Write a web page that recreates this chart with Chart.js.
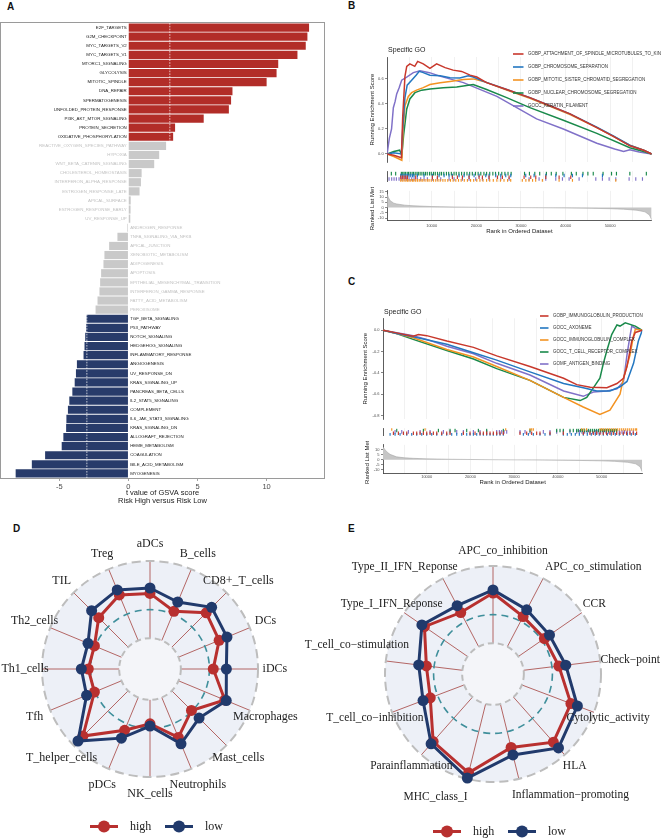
<!DOCTYPE html>
<html>
<head>
<meta charset="utf-8">
<title>GSVA / GSEA / immune radar</title>
<script src="https://cdn.jsdelivr.net/npm/chart.js@4.4.1/dist/chart.umd.min.js"></script>
<style>
  html, body { margin: 0; padding: 0; background: #fff; }
  #fig { position: relative; width: 661px; height: 838px; overflow: hidden; }
  #fig canvas { position: absolute; }
  .tag { position: absolute; font: bold 10px/12px "Liberation Sans", Arial, sans-serif; color: #111; }
</style>
</head>
<body>
<div id="fig">
  <div class="tag" style="left:7px;top:1px">A</div>
  <div class="tag" style="left:348px;top:0px">B</div>
  <div class="tag" style="left:348px;top:276px">C</div>
  <div class="tag" style="left:13px;top:523px">D</div>
  <div class="tag" style="left:348px;top:523px">E</div>

  <canvas id="hallmark" width="330" height="490" style="left:0;top:15px"></canvas>
  <canvas id="gseaB1" width="301" height="126" style="left:360px;top:40px"></canvas>
  <canvas id="gseaB2" width="301" height="21" style="left:360px;top:166px"></canvas>
  <canvas id="gseaB3" width="301" height="53" style="left:360px;top:187px"></canvas>
  <canvas id="gseaC1" width="305" height="123" style="left:356px;top:300px"></canvas>
  <canvas id="gseaC2" width="305" height="18" style="left:356px;top:423px"></canvas>
  <canvas id="gseaC3" width="305" height="49" style="left:356px;top:441px"></canvas>
  <canvas id="radarD" width="330" height="318" style="left:0;top:520px"></canvas>
  <canvas id="radarE" width="361" height="318" style="left:300px;top:520px"></canvas>
</div>

<script>
// ---------- A: GSVA t values ----------
const hallmarkNames = [
  'E2F_TARGETS', 'G2M_CHECKPOINT', 'MYC_TARGETS_V2', 'MYC_TARGETS_V1', 'MTORC1_SIGNALING',
  'GLYCOLYSIS', 'MITOTIC_SPINDLE', 'DNA_REPAIR', 'SPERMATOGENESIS', 'UNFOLDED_PROTEIN_RESPONSE',
  'PI3K_AKT_MTOR_SIGNALING', 'PROTEIN_SECRETION', 'OXIDATIVE_PHOSPHORYLATION',
  'REACTIVE_OXYGEN_SPECIES_PATHWAY', 'HYPOXIA', 'WNT_BETA_CATENIN_SIGNALING', 'CHOLESTEROL_HOMEOSTASIS',
  'INTERFERON_ALPHA_RESPONSE', 'ESTROGEN_RESPONSE_LATE', 'APICAL_SURFACE', 'ESTROGEN_RESPONSE_EARLY',
  'UV_RESPONSE_UP', 'ANDROGEN_RESPONSE', 'TNFA_SIGNALING_VIA_NFKB', 'APICAL_JUNCTION',
  'XENOBIOTIC_METABOLISM', 'ADIPOGENESIS', 'APOPTOSIS', 'EPITHELIAL_MESENCHYMAL_TRANSITION',
  'INTERFERON_GAMMA_RESPONSE', 'FATTY_ACID_METABOLISM', 'PEROXISOME',
  'TGF_BETA_SIGNALING', 'P53_PATHWAY', 'NOTCH_SIGNALING', 'HEDGEHOG_SIGNALING', 'INFLAMMATORY_RESPONSE',
  'ANGIOGENESIS', 'UV_RESPONSE_DN', 'KRAS_SIGNALING_UP', 'PANCREAS_BETA_CELLS', 'IL2_STAT5_SIGNALING',
  'COMPLEMENT', 'IL6_JAK_STAT3_SIGNALING', 'KRAS_SIGNALING_DN', 'ALLOGRAFT_REJECTION', 'HEME_METABOLISM',
  'COAGULATION', 'BILE_ACID_METABOLISM', 'MYOGENESIS'
];
const hallmarkT = [
  13.07, 12.95, 12.83, 12.23, 10.84, 10.72, 10.0, 7.53, 7.43, 7.27, 5.45, 3.38, 3.24,
  2.73, 2.23, 1.87, 0.96, 0.91, 0.81, 0.17, 0.16, 0.14,
  -0.07, -0.79, -1.39, -1.73, -1.80, -1.97, -2.04, -2.09, -2.23, -2.37,
  -3.02, -3.05, -3.12, -3.17, -3.24, -3.72, -3.79, -3.88, -4.05, -4.27, -4.37, -4.48, -4.50,
  -4.70, -4.82, -6.02, -6.98, -8.15
];
const tCutoffs = [-3, 3];
const tTicks = [-5, 0, 5, 10];

// ---------- B / C: GSEA ----------
const rankMax = 59300;
const rankBreaks = [5000, 10000, 15000, 20000, 25000, 30000, 35000, 40000, 45000, 50000, 55000];

const bNames = ['GOBP_ATTACHMENT_OF_SPINDLE_MICROTUBULES_TO_KINETOCHORE', 'GOBP_CHROMOSOME_SEPARATION',
  'GOBP_MITOTIC_SISTER_CHROMATID_SEGREGATION', 'GOBP_NUCLEAR_CHROMOSOME_SEGREGATION', 'GOCC_KERATIN_FILAMENT'];
const bAttach = [[0,0],[1500,-0.01],[3200,-0.03],[3500,0.3],[4000,0.62],[4400,0.70],[5100,0.72],[6200,0.70],[6850,0.74],[8100,0.72],[9600,0.685],[11100,0.72],[13000,0.69],[14800,0.67],[16700,0.66],[18600,0.63],[20100,0.615],[22300,0.57],[26800,0.515],[32000,0.45],[36500,0.385],[41000,0.32],[47000,0.21],[50700,0.14],[54400,0.065],[57500,0.03],[59300,0]];
const bChrom = [[0,0],[1500,0.01],[3200,0.0],[3500,0.2],[4000,0.45],[4500,0.55],[5500,0.59],[6500,0.63],[7200,0.66],[8100,0.65],[9600,0.63],[11900,0.625],[14100,0.61],[16300,0.607],[18200,0.625],[19300,0.615],[21600,0.58],[26800,0.515],[32000,0.45],[36500,0.385],[41000,0.32],[47000,0.215],[50700,0.145],[54400,0.07],[57500,0.03],[59300,0]];
const bSister = [[0,0],[1500,-0.02],[3300,-0.05],[3600,0.2],[4000,0.385],[4760,0.46],[5500,0.49],[6600,0.51],[8100,0.53],[9600,0.555],[11900,0.57],[14100,0.58],[17100,0.595],[19300,0.60],[21600,0.58],[26800,0.51],[32000,0.445],[36500,0.38],[41000,0.315],[47000,0.21],[50700,0.14],[54400,0.07],[57500,0.03],[59300,0]];
const bNuclear = [[0,0],[1500,0.02],[2800,0.03],[3300,-0.01],[3700,0.15],[4400,0.36],[5100,0.44],[6250,0.49],[7750,0.51],[9600,0.52],[12600,0.53],[15600,0.535],[19300,0.555],[22300,0.515],[26800,0.45],[32000,0.37],[39500,0.27],[47000,0.165],[54400,0.05],[57500,0.02],[59300,0]];
const bKeratin = [[0,0],[500,0.125],[1000,0.2],[1400,0.37],[1800,0.42],[2150,0.48],[2700,0.53],[3270,0.59],[4390,0.615],[5880,0.65],[7380,0.665],[9500,0.65],[12000,0.62],[17100,0.57],[24600,0.46],[33500,0.28],[39500,0.2],[47000,0.086],[51000,0.04],[53000,0.02],[54400,0.034],[56500,0.015],[59300,0]];

const bHitsAttach = [3050,3420,3800,4170,4550,6410,10150,11270,14630,15750,16880,18370,20610,21360,22850,24720,25840,27340,30700,32190,33320,35560,38550,41160];
const bHitsChrom = [3050,3400,3800,4200,4550,4900,5300,5700,6040,6790,8280,10150,11640,12770,13890,14630,16130,17250,18370,19490,20610,22110,22850,24350,25470,26590,27710,31070,32940,35560,37800,39670,41540,43780,48260];
const bHitsSister = [3050,3400,3800,4200,4550,4900,5300,5700,6000,6400,6800,7200,7600,8000,8500,9000,9400,9900,10400,10900,11400,11900,12500,13000,13600,14200,14800,15400,16000,16600,17300,18000,18700,19400,20100,20800,21500,22300,23000,23800,24600,25400,26200,27000,27700,30300,31100,31800,32600,33300,34800,38550,41540,51250];
const bHitsNuclear = [950,1920,3200,3500,3800,4100,4500,4800,5200,5600,5900,6300,6700,7000,7400,7800,8200,8600,9000,9500,9900,10400,10800,11300,11800,12200,12700,13300,13800,14400,15000,15500,16100,16700,17300,17900,18500,19100,19800,20400,21000,21700,22300,23000,23700,24300,25000,25700,26400,27100,27800,30800,31900,33100,34200,35700,36800,37900,39400,41300,42400,43900,45000,46200,48400,50300,51400,54400,58100];
const bHitsKeratin = [435,1030,1560,2080,2680,3270,3800,4320,4920,5520,6040,6790,7530,8280,9030,10150,11270,12020,13890,15010,16880,18370,19860,21360,22850,25470,27340,31820,34060,35560,37800,39300,40790,43030,46770,48260,49760,51250,54240,55730,57230];
const bRowOrder = [2, 1, 4, 0, 3];
const bMetric = [[0,13],[300,9.5],[700,6.5],[1500,4.2],[2200,3.4],[4000,2.3],[6000,1.7],[10000,1.0],[15000,0.6],[20000,0.35],[25000,0.15],[30000,0],[35000,-0.15],[40000,-0.35],[45000,-0.6],[50000,-1.0],[53000,-1.5],[56000,-2.5],[57800,-4],[58800,-7],[59300,-11.5]];

const cNames = ['GOBP_IMMUNOGLOBULIN_PRODUCTION', 'GOCC_AXONEME', 'GOCC_IMMUNOGLOBULIN_COMPLEX',
  'GOCC_T_CELL_RECEPTOR_COMPLEX', 'GOMF_ANTIGEN_BINDING'];
const cIgProd = [[0,0],[3100,-0.024],[6900,-0.055],[8100,-0.04],[10000,-0.05],[14600,-0.1],[20700,-0.16],[26000,-0.24],[33600,-0.34],[41300,-0.45],[44300,-0.51],[47400,-0.535],[51200,-0.54],[53500,-0.5],[55000,-0.45],[55800,-0.34],[56900,-0.1],[57700,-0.02],[59300,0]];
const cAxoneme = [[0,0],[3100,-0.03],[6900,-0.06],[14600,-0.13],[20700,-0.21],[26000,-0.28],[33600,-0.39],[41300,-0.5],[45800,-0.54],[48900,-0.57],[51900,-0.57],[54200,-0.53],[55800,-0.48],[57300,-0.31],[58400,-0.1],[59300,0]];
const cIgComplex = [[0,0],[3100,-0.03],[6900,-0.07],[14600,-0.18],[20700,-0.25],[26000,-0.34],[33600,-0.47],[41300,-0.63],[45800,-0.72],[49600,-0.79],[51900,-0.75],[54200,-0.6],[55000,-0.45],[56500,-0.23],[57300,-0.05],[57700,0.01],[59300,0]];
const cTcr = [[0,0],[3100,-0.03],[6900,-0.085],[14600,-0.19],[20700,-0.27],[26000,-0.36],[33600,-0.47],[41300,-0.63],[45100,-0.66],[46600,-0.63],[48100,-0.54],[49600,-0.45],[50400,-0.31],[51200,-0.19],[52300,-0.04],[53500,0.05],[54200,0.04],[55400,0.07],[57700,0.04],[59300,0]];
const cAntigen = [[0,0],[6900,-0.05],[10000,-0.085],[14600,-0.15],[20700,-0.22],[26000,-0.31],[33600,-0.42],[41300,-0.57],[45800,-0.62],[48100,-0.58],[51200,-0.57],[53500,-0.55],[55000,-0.48],[55800,-0.23],[56500,-0.05],[56900,0.04],[57700,0.02],[59300,0]];

const cHitsIgProd = [2380,3520,4670,5430,6950,7710,8480,9240,10000,10760,11520,12290,13430,14570,15330,18380,19900,21050,22190,22950,23710,24480,25240,26000,26760,27520,31330,32860,34000,35140,35900,38190,41240,45810,47330,48100,48860,49620,50380,51140,51900,52670,53430,54190,54950,55710,56480,57240,58000];
const cHitsAxoneme = [1620,2760,3900,5430,6570,7710,8860,10000,11140,12290,13430,14570,15710,16860,18000,19140,19900,20670,21430,22190,22950,23710,24480,25240,26000,26760,27520,32100,33240,34380,35900,37050,38190,41240,42150,43070,43980,44900,45810,46720,47640,48550,49460,50380,51300,52210,53120,54040,54950,55870,56780,57700];
const cHitsIgComplex = [2000,9620,28060,33620,34000,34380,45430,45960,46570,49620,50000,50380,50840,51300,51750,52210,52670,53120,53580,54040,54500,54950,55410,55870,56320,56780,57240,57700,58000];
const cHitsTcr = [3140,9240,12670,15330,16480,19140,21810,23710,27520,33620,39710,40480,41240,42760,43520,44290,44670,45200,45660,46110,46570,47030,47490,47940,48400,48860,49310,49770,50230,50690,51140,51600,52060,52510,52970,53430];
const cHitsAntigen = [2760,4290,5810,8480,10760,13810,15330,16860,18380,20670,22190,23710,26000,26610,27140,27680,28290,31330,32480,33620,36670,38190,39710,41240,42760,44290,44900,45500,46110,46720,47330,47940,48550,49160,49770,50380,50990,51600,52210,52820,53430,54040,54650,55260,55870,56480,57240];
const cRowOrder = [3, 4, 0, 1, 2];
const cMetric = [[0,13],[400,10.5],[900,8],[1600,5.5],[3100,3],[5000,2],[7000,1.5],[10000,1.0],[15000,0.6],[20000,0.35],[25000,0.15],[30000,0],[35000,-0.15],[40000,-0.35],[45000,-0.6],[50000,-1.0],[53000,-1.5],[56000,-2.5],[57800,-4],[58800,-7],[59300,-12]];

// ---------- D / E: radar ----------
const dCells = ['aDCs', 'B_cells', 'CD8+_T_cells', 'DCs', 'iDCs', 'Macrophages', 'Mast_cells', 'Neutrophils',
  'NK_cells', 'pDCs', 'T_helper_cells', 'Tfh', 'Th1_cells', 'Th2_cells', 'TIL', 'Treg'];
const dHigh = [0.58, 0.41, 0.63, 0.57, 0.42, 0.65, 0.36, 0.56, 0.31, 0.46, 0.83, 0.38, 0.40, 0.38, 0.54, 0.64];
const dLow  = [0.65, 0.54, 0.73, 0.68, 0.59, 0.67, 0.50, 0.65, 0.34, 0.57, 0.92, 0.49, 0.49, 0.47, 0.67, 0.71];

const eFuncs = ['APC_co_inhibition', 'APC_co_stimulation', 'CCR', 'Check\u2212point', 'Cytolytic_activity', 'HLA',
  'Inflammation\u2212promoting', 'MHC_class_I', 'Parainflammation', 'T_cell_co\u2212inhibition',
  'T_cell_co\u2212stimulation', 'Type_I_IFN_Reponse', 'Type_II_IFN_Reponse'];
const eHigh = [0.65, 0.44, 0.41, 0.46, 0.68, 0.78, 0.58, 0.92, 0.77, 0.47, 0.47, 0.68, 0.50];
const eLow  = [0.69, 0.54, 0.49, 0.55, 0.77, 0.88, 0.68, 0.99, 0.81, 0.57, 0.57, 0.72, 0.60];
const radarGrid = [0, 0.37, 1];

// ---------- styling ----------
Chart.defaults.font.family = '"Liberation Sans", Arial, sans-serif';
Chart.defaults.animation = false;
Chart.defaults.events = [];
Chart.defaults.plugins.legend.display = false;
Chart.defaults.plugins.tooltip.enabled = false;

const gseaColors = ['#c8382c', '#2377c1', '#f39322', '#1a8a4b', '#8071c8'];
const RED = '#b8302f', NAVY = '#213a6c';

// ----- A -----
const hallmarkDecor = {
  id: 'hallmarkDecor',
  afterDatasetsDraw(chart) {
    const {ctx, chartArea: a, scales: {x, y}} = chart;
    const x0 = x.getPixelForValue(0);
    ctx.save();
    ctx.strokeStyle = '#ffffff';
    ctx.lineWidth = 0.7;
    ctx.setLineDash([1.6, 1.2]);
    tCutoffs.forEach(v => {
      const px = x.getPixelForValue(v);
      ctx.beginPath(); ctx.moveTo(px, a.top); ctx.lineTo(px, a.bottom); ctx.stroke();
    });
    ctx.setLineDash([]);

    ctx.font = '4.4px "Liberation Sans"';
    ctx.textBaseline = 'middle';
    hallmarkNames.forEach((n, i) => {
      const v = hallmarkT[i];
      const py = y.getPixelForValue(i);
      ctx.fillStyle = Math.abs(v) > 3 ? '#1a1a1a' : '#c2c2c2';
      if (v > 0) { ctx.textAlign = 'right'; ctx.fillText(n, x0 - 1.6, py); }
      else { ctx.textAlign = 'left'; ctx.fillText(n, x0 + 1.8, py); }
    });

    ctx.strokeStyle = '#9a9a9a';
    ctx.lineWidth = 1;
    ctx.strokeRect(a.left - 0.5, a.top - 0.5, a.width + 1, a.height + 1);

    ctx.font = '7.5px "Liberation Sans"';
    ctx.fillStyle = '#1a1a1a';
    ctx.textAlign = 'center';
    const cx = (a.left + a.right) / 2;
    ctx.fillText('t value of GSVA score', cx, a.bottom + 14.7);
    ctx.fillText('Risk High versus Risk Low', cx, a.bottom + 22.7);
    ctx.restore();
  }
};

new Chart(document.getElementById('hallmark'), {
  type: 'bar',
  data: {
    labels: hallmarkNames,
    datasets: [{
      data: hallmarkT,
      backgroundColor: hallmarkT.map(v => v > 3 ? '#b22d28' : (v < -3 ? '#283b6a' : '#c9c9c9')),
      barPercentage: 0.9,
      categoryPercentage: 1
    }]
  },
  options: {
    indexAxis: 'y',
    responsive: false,
    layout: {padding: {left: 1, right: 6, top: 8, bottom: 0}},
    scales: {
      x: {
        type: 'linear', min: -9.21, max: 14.15,
        afterBuildTicks: s => { s.ticks = tTicks.map(v => ({value: v})); },
        ticks: {font: {size: 7.5}, color: '#4d4d4d', padding: 1, maxRotation: 0, autoSkip: false},
        grid: {drawOnChartArea: false, drawTicks: true, tickLength: 3, color: '#8c8c8c', lineWidth: 0.8},
        border: {display: false},
        afterFit: s => { s.height = 27; }
      },
      y: {display: false, offset: true}
    }
  },
  plugins: [hallmarkDecor]
});

// ----- B / C -----
const gseaHeader = {
  id: 'gseaHeader',
  afterDraw(chart, args, o) {
    const {ctx, chartArea: a} = chart;
    ctx.save();
    ctx.textBaseline = 'middle';
    ctx.textAlign = 'left';
    ctx.font = '7px "Liberation Sans"';
    ctx.fillStyle = '#1a1a1a';
    ctx.fillText('Specific GO', a.left + 1, o.titleY);
    ctx.font = '4.5px "Liberation Sans"';
    o.names.forEach((n, i) => {
      const yy = o.legendY + i * o.legendStep;
      ctx.strokeStyle = gseaColors[i];
      ctx.lineWidth = 1.6;
      ctx.beginPath(); ctx.moveTo(o.legendX, yy); ctx.lineTo(o.legendX + o.keyLen, yy); ctx.stroke();
      ctx.fillStyle = '#333';
      ctx.fillText(n, o.legendX + o.keyLen + 4.5, yy);
    });
    ctx.restore();
  }
};

function gseaPanel(g) {
  const fixW = s => { s.width = g.axisW; };
  const xGrid = {color: '#ebebeb', lineWidth: 0.7, drawTicks: false};
  const setRankTicks = s => { s.ticks = rankBreaks.map(v => ({value: v})); };
  const yTickStyle = {font: {size: 4}, color: '#4d4d4d', padding: 1.5, autoSkip: false};
  const yGrid = {drawOnChartArea: false, drawTicks: true, tickLength: 2, color: '#333', lineWidth: 0.6};
  const axisLine = {display: true, color: '#333', width: 0.8};

  new Chart(document.getElementById(g.prefix + '1'), {
    type: 'line',
    data: {datasets: g.curves.map((c, i) => ({
      label: g.names[i], data: c.map(([x, y]) => ({x, y})),
      borderColor: gseaColors[i], borderWidth: 1.5, pointRadius: 0, tension: 0
    }))},
    options: {
      responsive: false,
      layout: {padding: {left: 0, right: g.padR, top: g.padTop, bottom: 1}},
      plugins: {gseaHeader: Object.assign({names: g.names}, g.header)},
      scales: {
        x: {type: 'linear', min: 0, max: rankMax, afterBuildTicks: setRankTicks,
            ticks: {display: false}, grid: xGrid, border: {display: false},
            afterFit: s => { s.height = 0; }},
        y: {min: g.esMin, max: g.esMax,
            afterBuildTicks: s => { s.ticks = g.esTicks.map(v => ({value: v})); },
            ticks: Object.assign({callback: v => v.toFixed(1)}, yTickStyle),
            grid: yGrid, border: axisLine,
            title: {display: true, text: 'Running Enrichment Score', font: {size: 6}, color: '#1a1a1a',
                    padding: {top: g.esTitlePad, bottom: 0}},
            afterFit: fixW}
      }
    },
    plugins: [gseaHeader]
  });

  new Chart(document.getElementById(g.prefix + '2'), {
    type: 'scatter',
    data: {datasets: g.hits.map((h, i) => ({
      data: h.map(x => ({x, y: g.rows[i]})),
      pointStyle: 'line', pointRotation: 90, pointRadius: 1.8,
      pointBorderColor: gseaColors[i], pointBackgroundColor: gseaColors[i], pointBorderWidth: 1.15
    }))},
    options: {
      responsive: false,
      layout: {padding: {left: 0, right: g.padR, top: 0, bottom: 0}},
      scales: {
        x: {type: 'linear', min: 0, max: rankMax, afterBuildTicks: setRankTicks,
            ticks: {display: false}, grid: xGrid, border: {display: false},
            afterFit: s => { s.height = 0; }},
        y: {min: g.rowMin, max: g.rowMax, reverse: true, ticks: {display: false},
            grid: {display: false}, border: axisLine, afterFit: fixW}
      }
    }
  });

  new Chart(document.getElementById(g.prefix + '3'), {
    type: 'line',
    data: {datasets: [{
      data: g.metric.map(([x, y]) => ({x, y})),
      fill: 'origin', backgroundColor: '#c6c6c6', borderColor: '#a6a6a6', borderWidth: 0.6,
      pointRadius: 0, tension: 0
    }]},
    options: {
      responsive: false,
      layout: {padding: {left: 0, right: g.padR, top: 0, bottom: 0}},
      scales: {
        x: {type: 'linear', min: 0, max: rankMax, afterBuildTicks: setRankTicks,
            ticks: {font: {size: 4}, color: '#4d4d4d', padding: g.xTickPad, autoSkip: false, maxRotation: 0,
                    callback: v => (v % 10000 === 0 ? String(v) : '')},
            grid: xGrid, border: axisLine,
            title: {display: true, text: 'Rank in Ordered Dataset', font: {size: 6}, color: '#1a1a1a',
                    padding: {top: 0, bottom: g.xTitlePad}},
            afterFit: s => { s.height = g.xAxisH; }},
        y: {min: g.rkMin, max: g.rkMax,
            afterBuildTicks: s => { s.ticks = g.rkTicks.map(v => ({value: v})); },
            ticks: yTickStyle, grid: yGrid, border: axisLine,
            title: {display: true, text: 'Ranked List Metric', font: {size: 6}, color: '#1a1a1a',
                    padding: {top: g.rkTitlePad, bottom: 0}},
            afterFit: fixW}
      }
    }
  });
}

gseaPanel({
  prefix: 'gseaB', names: bNames,
  curves: [bAttach, bChrom, bSister, bNuclear, bKeratin],
  hits: [bHitsAttach, bHitsChrom, bHitsSister, bHitsNuclear, bHitsKeratin],
  rows: bRowOrder, metric: bMetric,
  axisW: 27.1, padR: 9.3, padTop: 17,
  esMin: -0.065, esMax: 0.775, esTicks: [0, 0.2, 0.4, 0.6],
  rowMin: -1.4, rowMax: 4.6,
  rkMin: -11.7, rkMax: 15.8, rkTicks: [-10, -5, 0, 5, 10, 15],
  xAxisH: 20, xTickPad: 3.6, xTitlePad: 4.7, esTitlePad: 9.1, rkTitlePad: 9.1,
  header: {titleY: 10, legendX: 153, keyLen: 10.5, legendY: 14, legendStep: 13}
});

gseaPanel({
  prefix: 'gseaC', names: cNames,
  curves: [cIgProd, cAxoneme, cIgComplex, cTcr, cAntigen],
  hits: [cHitsIgProd, cHitsAxoneme, cHitsIgComplex, cHitsTcr, cHitsAntigen],
  rows: cRowOrder, metric: cMetric,
  axisW: 27, padR: 18.7, padTop: 18.3,
  esMin: -0.834, esMax: 0.113, esTicks: [-0.8, -0.6, -0.4, -0.2, 0],
  rowMin: -0.6, rowMax: 4.8,
  rkMin: -13.5, rkMax: 15, rkTicks: [-10, -5, 0, 5, 10],
  xAxisH: 16.7, xTickPad: 1.6, xTitlePad: 3.7, esTitlePad: 5.4, rkTitlePad: 7.7,
  header: {titleY: 12, legendX: 184, keyLen: 8.5, legendY: 16, legendStep: 12}
});

// ----- D / E -----
const radarDecor = {
  id: 'radarDecor',
  beforeDatasetsDraw(chart) {
    const s = chart.scales.r, ctx = chart.ctx, n = chart.data.labels.length;
    const cx = s.xCenter, cy = s.yCenter;
    const rIn = s.getDistanceFromCenterForValue(radarGrid[0]);
    const rMid = s.getDistanceFromCenterForValue(radarGrid[1]);
    const rOut = s.getDistanceFromCenterForValue(radarGrid[2]);
    const ring = (r, col, w, dash) => {
      ctx.strokeStyle = col; ctx.lineWidth = w; ctx.setLineDash(dash);
      ctx.beginPath(); ctx.arc(cx, cy, r, 0, Math.PI * 2); ctx.stroke();
    };
    ctx.save();
    ctx.fillStyle = '#edf0f7';
    ctx.beginPath(); ctx.arc(cx, cy, rOut, 0, Math.PI * 2); ctx.fill();
    ctx.fillStyle = '#f4f5f9';
    ctx.beginPath(); ctx.arc(cx, cy, rIn, 0, Math.PI * 2); ctx.fill();
    ctx.strokeStyle = '#a4423f';
    ctx.lineWidth = 0.8;
    for (let i = 0; i < n; i++) {
      const p = s.getPointPosition(i, rIn), q = s.getPointPosition(i, rOut);
      ctx.beginPath(); ctx.moveTo(p.x, p.y); ctx.lineTo(q.x, q.y); ctx.stroke();
    }
    ring(rOut, '#bdbdbd', 2, [9, 5]);
    ring(rIn, '#bdbdbd', 2, [6, 4]);
    ring(rMid, '#3f8f9b', 1.6, [7, 5]);
    ctx.restore();
  },
  afterDraw(chart, args, o) {
    const s = chart.scales.r, ctx = chart.ctx;
    const rOut = s.getDistanceFromCenterForValue(radarGrid[2]);
    ctx.save();
    ctx.font = o.fontSize + 'px "Liberation Serif"';
    ctx.fillStyle = '#222';
    ctx.textAlign = 'center';
    ctx.textBaseline = 'middle';
    chart.data.labels.forEach((lab, i) => {
      const p = s.getPointPosition(i, rOut * o.labelFactor);
      const sh = (o.shift && o.shift[lab]) || [0, 0];
      ctx.fillText(lab, p.x + sh[0], p.y + sh[1]);
    });
    // legend
    const lx = s.xCenter + 6, ly = s.yCenter + 157.5;
    ctx.font = '12px "Liberation Serif"';
    ctx.textAlign = 'left';
    chart.data.datasets.forEach((ds, i) => {
      const kx = lx - 52 + i * 75;
      ctx.strokeStyle = ds.borderColor; ctx.lineWidth = 3;
      ctx.beginPath(); ctx.moveTo(kx - 14, ly); ctx.lineTo(kx + 14, ly); ctx.stroke();
      ctx.fillStyle = ds.borderColor;
      ctx.beginPath(); ctx.arc(kx, ly, 6, 0, Math.PI * 2); ctx.fill();
      ctx.fillStyle = '#222';
      ctx.fillText(ds.label, kx + 26, ly);
    });
    ctx.restore();
  }
};

function radarPanel(id, labels, high, low, pad, deco) {
  const ds = (label, data, col, order) => ({
    label, data, order, borderColor: col, backgroundColor: col, pointBackgroundColor: col,
    borderWidth: 3, pointRadius: 5.5, pointBorderWidth: 0, fill: false
  });
  new Chart(document.getElementById(id), {
    type: 'radar',
    data: {labels, datasets: [ds('high', high, RED, 1), ds('low', low, NAVY, 0)]},
    options: {
      responsive: false,
      layout: {padding: pad},
      scales: {r: {min: -0.4, max: 1, ticks: {display: false}, grid: {display: false},
                   angleLines: {display: false}, pointLabels: {display: false}}},
      plugins: {radarDecor: deco}
    },
    plugins: [radarDecor]
  });
}

radarPanel('radarD', dCells, dHigh, dLow, {left: 42, top: 41, right: 71, bottom: 60},
  {fontSize: 12, labelFactor: 1.157});

radarPanel('radarE', eFuncs, eHigh, eLow, {left: 85, top: 46, right: 59, bottom: 55},
  {fontSize: 11.5, labelFactor: 1.14, shift: {
    'APC_co_inhibition': [10, 0], 'APC_co_stimulation': [43, 2], 'Check\u2212point': [15, 1],
    'Inflammation\u2212promoting': [48, 1], 'MHC_class_I': [-28, 3], 'Type_II_IFN_Reponse': [-31, 2],
    'T_cell_co\u2212stimulation': [-14, -14], 'T_cell_co\u2212inhibition': [-3, 0]
  }});
</script>
</body>
</html>
